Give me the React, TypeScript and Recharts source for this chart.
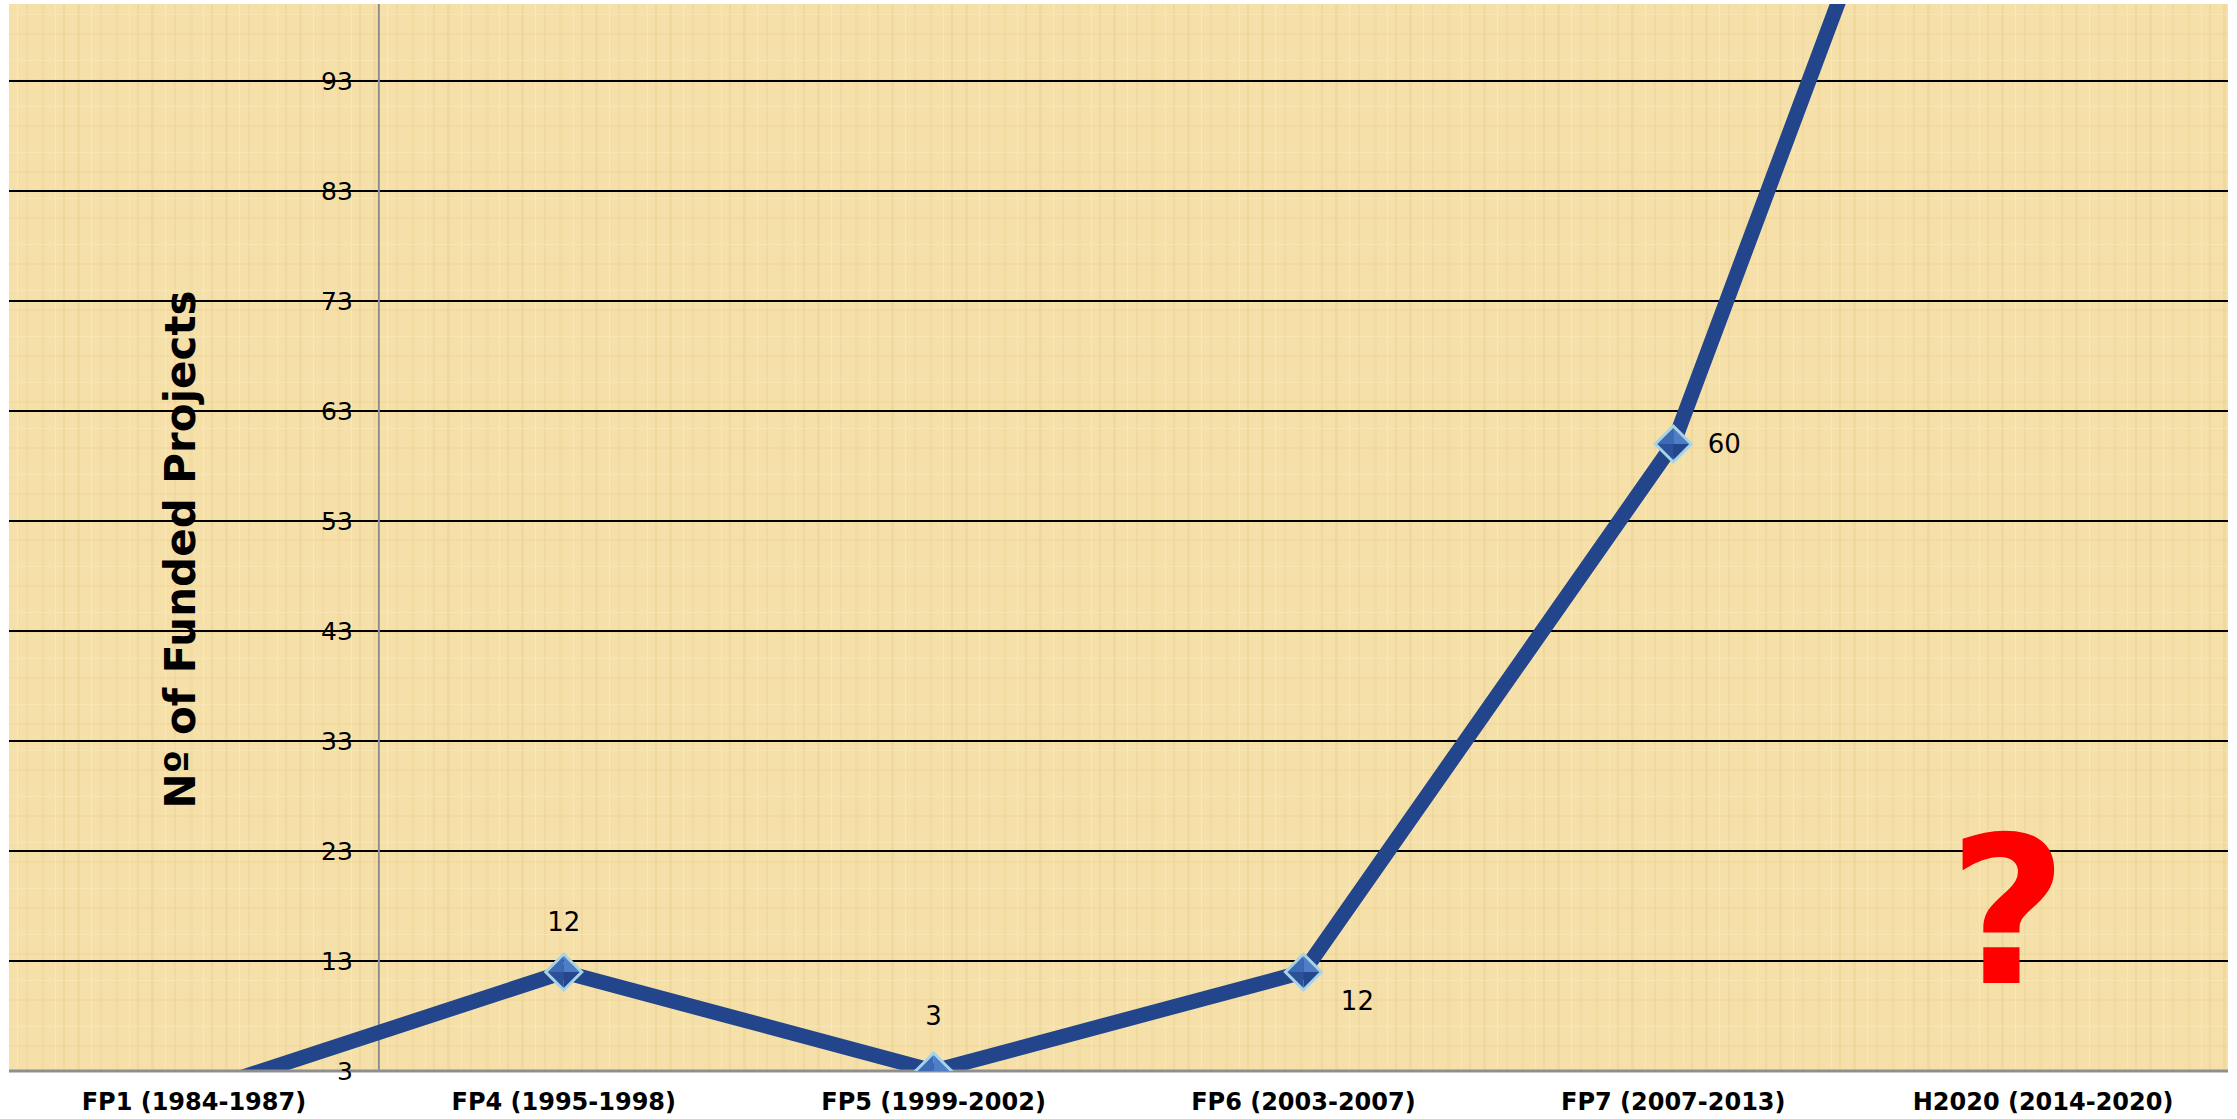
import { LineChart, Line, XAxis, YAxis, CartesianGrid, ReferenceLine, ReferenceDot, LabelList, Label } from 'recharts';

const categories = [
  'FP1 (1984-1987)',
  'FP4 (1995-1998)',
  'FP5 (1999-2002)',
  'FP6 (2003-2007)',
  'FP7 (2007-2013)',
  'H2020 (2014-2020)',
];
const fundedProjects = [1, 12, 3, 12, 60, 150];
const yTicks = [3, 13, 23, 33, 43, 53, 63, 73, 83, 93];
const yDomain: [number, number] = [3, 100];
const yTitle = 'Nº of Funded Projects';
// where each value label sits next to its marker
const labelPlacement = ['none', 'top', 'top', 'belowRight', 'right', 'none'];
const unknownMark = '?';
const unknownMarkValue = 11;

const W = 2237;
const H = 1119;
const Y_AXIS_W = 1;
const margin = { top: 4, right: 9, bottom: 0, left: 9 - Y_AXIS_W };
const plotWidth = W - 9 - margin.right;
const bandWidth = plotWidth / categories.length;

const data = categories.map((name, i) => ({ idx: i, name, value: fundedProjects[i] }));

const LINE_BLUE = '#22458B';
const GRID_GREY = '#8E8E8E';

function YTick(props: any) {
  const { x, y, payload } = props;
  return (
    <text
      x={x + bandWidth - 26}
      y={y}
      textAnchor="end"
      dominantBaseline="central"
      fontFamily="DejaVu Sans"
      fontSize={25}
      fill="#000"
    >
      {payload.value}
    </text>
  );
}

function YTitle(props: any) {
  const vb = props.viewBox || { x: margin.left, y: margin.top, height: H - 52 };
  const cx = vb.x + 172;
  const cy = vb.y + vb.height / 2 + 12;
  return (
    <text
      x={cx}
      y={cy}
      transform={`rotate(-90 ${cx} ${cy})`}
      textAnchor="middle"
      dominantBaseline="central"
      fontFamily="DejaVu Sans"
      fontWeight="bold"
      fontSize={42}
      fill="#000"
    >
      {yTitle}
    </text>
  );
}

function Diamond(props: any) {
  const { cx, cy, index } = props;
  if (cx == null || cy == null) return null;
  const r = 18;
  const top = `${cx},${cy - r}`;
  const right = `${cx + r},${cy}`;
  const bottom = `${cx},${cy + r}`;
  const left = `${cx - r},${cy}`;
  const c = `${cx},${cy}`;
  return (
    <g key={`d-${index}`}>
      <polygon points={`${top} ${right} ${c}`} fill="#4F7DC6" />
      <polygon points={`${right} ${bottom} ${c}`} fill="#24468C" />
      <polygon points={`${bottom} ${left} ${c}`} fill="#2B5298" />
      <polygon points={`${left} ${top} ${c}`} fill="#3D6AB4" />
      <polygon
        points={`${top} ${right} ${bottom} ${left}`}
        fill="none"
        stroke="#A9D3E6"
        strokeWidth={3}
      />
    </g>
  );
}

function ValueLabel(props: any) {
  const { x, y, value, index } = props;
  const place = labelPlacement[index];
  if (!place || place === 'none') return null;
  let tx = x;
  let ty = y;
  if (place === 'top') ty = y - (index === 2 ? 55 : 50);
  if (place === 'right') tx = x + 51;
  if (place === 'belowRight') {
    tx = x + 54;
    ty = y + 29;
  }
  return (
    <text
      x={tx}
      y={ty}
      textAnchor="middle"
      dominantBaseline="central"
      fontFamily="DejaVu Sans"
      fontSize={26}
      fill="#000"
    >
      {value}
    </text>
  );
}

function QuestionMark(props: any) {
  const { cx, cy } = props;
  return (
    <text
      x={cx - 35}
      y={cy}
      textAnchor="middle"
      fontFamily="DejaVu Sans"
      fontWeight="bold"
      fontSize={205}
      fill="#FF0000"
    >
      {unknownMark}
    </text>
  );
}

export default function App() {
  return (
    <div style={{ position: 'absolute', left: 0, top: 0, width: W, height: H, background: '#fff' }}>
      <LineChart width={W} height={H} data={data} margin={margin}>
        <defs>
          <pattern id="papyrus" x="0" y="0" width="74" height="46" patternUnits="userSpaceOnUse">
            <rect x="0" y="0" width="74" height="46" fill="#F5E0A9" />
            <rect x="3" y="0" width="3" height="46" fill="#EBD08E" opacity="0.4" />
            <rect x="17" y="0" width="1" height="46" fill="#FBEBC4" opacity="0.7" />
            <rect x="26" y="0" width="2" height="46" fill="#E8CC88" opacity="0.3" />
            <rect x="41" y="0" width="4" height="46" fill="#F0D89C" opacity="0.5" />
            <rect x="55" y="0" width="1" height="46" fill="#FAE8BC" opacity="0.8" />
            <rect x="63" y="0" width="2" height="46" fill="#E6C984" opacity="0.35" />
            <rect x="0" y="14" width="74" height="1" fill="#F9E7BA" opacity="0.6" />
            <rect x="0" y="33" width="74" height="2" fill="#EBD08E" opacity="0.3" />
          </pattern>
        </defs>
        <CartesianGrid
          vertical={false}
          horizontalValues={yTicks}
          stroke="#000"
          strokeWidth={2}
          fill="url(#papyrus)"
          fillOpacity={1}
        />
        <XAxis
          dataKey="idx"
          type="number"
          domain={[-0.5, categories.length - 0.5]}
          ticks={categories.map((_, i) => i)}
          interval={0}
          tickFormatter={(v: number) => categories[v] ?? ''}
          height={48}
          axisLine={{ stroke: GRID_GREY, strokeWidth: 3 }}
          tickLine={false}
          tickSize={0}
          tickMargin={22}
          tick={{ fill: '#000', fontFamily: 'DejaVu Sans', fontWeight: 'bold', fontSize: 24 }}
        />
        <YAxis
          type="number"
          domain={yDomain}
          ticks={yTicks}
          interval={0}
          allowDataOverflow
          width={Y_AXIS_W}
          axisLine={false}
          tickLine={false}
          tickSize={0}
          tickMargin={0}
          tick={<YTick />}
        >
          <Label content={<YTitle />} />
        </YAxis>
        <ReferenceLine x={0.5} stroke={GRID_GREY} strokeWidth={2} />
        <Line
          type="linear"
          dataKey="value"
          stroke={LINE_BLUE}
          strokeWidth={15}
          dot={<Diamond />}
          activeDot={false}
          isAnimationActive={false}
        >
          <LabelList dataKey="value" content={<ValueLabel />} />
        </Line>
        <ReferenceDot
          x={categories.length - 1}
          y={unknownMarkValue}
          r={0}
          ifOverflow="visible"
          shape={<QuestionMark />}
        />
      </LineChart>
    </div>
  );
}
